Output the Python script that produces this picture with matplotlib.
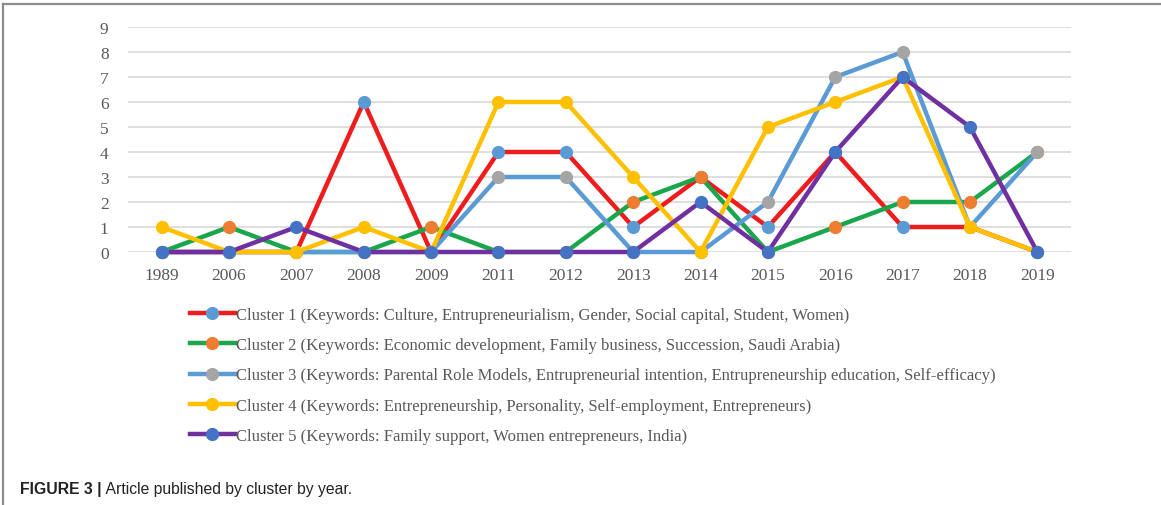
#Articles published per cluster per year, Excel-style line chart with a caption below
import matplotlib.pyplot as plt
from matplotlib.lines import Line2D

years = ['1989', '2006', '2007', '2008', '2009', '2011', '2012',
         '2013', '2014', '2015', '2016', '2017', '2018', '2019']

cluster1 = [0, 0, 0, 6, 0, 4, 4, 1, 3, 1, 4, 1, 1, 0]
cluster2 = [0, 1, 0, 0, 1, 0, 0, 2, 3, 0, 1, 2, 2, 4]
cluster3 = [0, 0, 0, 0, 0, 3, 3, 0, 0, 2, 7, 8, 1, 4]
cluster4 = [1, 0, 0, 1, 0, 6, 6, 3, 0, 5, 6, 7, 1, 0]
cluster5 = [0, 0, 1, 0, 0, 0, 0, 0, 2, 0, 4, 7, 5, 0]

labels = [
    'Cluster 1 (Keywords: Culture, Entrupreneurialism, Gender, Social capital, Student, Women)',
    'Cluster 2 (Keywords: Economic development, Family business, Succession, Saudi Arabia)',
    'Cluster 3 (Keywords: Parental Role Models, Entrupreneurial intention, Entrupreneurship education, Self-efficacy)',
    'Cluster 4 (Keywords: Entrepreneurship, Personality, Self-employment, Entrepreneurs)',
    'Cluster 5 (Keywords: Family support, Women entrepreneurs, India)',
]

series = [cluster1, cluster2, cluster3, cluster4, cluster5]
line_colors = ['#EE1C1C', '#1AA64B', '#5B9BD5', '#FFC000', '#7030A0']
marker_colors = ['#5B9BD5', '#ED7D31', '#A5A5A5', '#FFC000', '#4472C4']

fig = plt.figure(figsize=(11.61, 5.06), dpi=100)
ax = fig.add_axes([128 / 1161, 1 - 253 / 506, (1071 - 128) / 1161, (253 - 28) / 506])

x = range(len(years))
for vals, lc, mc, lab in zip(series, line_colors, marker_colors, labels):
    ax.plot(x, vals, color=lc, lw=3.2, marker='o', ms=8.5,
            markerfacecolor=mc, markeredgecolor=mc, label=lab, clip_on=False)

ax.set_xlim(-0.5, len(years) - 0.5)
ax.set_ylim(0, 9)
ax.set_yticks(range(10))
ax.set_xticks(list(x))
ax.set_xticklabels(years)
ax.grid(axis='y', color='#D9D9D9', lw=1.2)
ax.set_axisbelow(True)
for s in ax.spines.values():
    s.set_visible(False)
ax.tick_params(length=0, labelsize=12.5, labelcolor='#595959')
ax.tick_params(axis='y', pad=14)
ax.tick_params(axis='x', pad=11)
for t in ax.get_xticklabels() + ax.get_yticklabels():
    t.set_family('Liberation Serif')

leg = fig.legend(loc='upper left', bbox_to_anchor=(183 / 1161, 1 - 301 / 506),
                 frameon=False, numpoints=1, handlelength=2.7, handletextpad=0.05,
                 labelspacing=0.86, borderaxespad=0,
                 prop={'family': 'Liberation Serif', 'size': 12})
for t in leg.get_texts():
    t.set_color('#595959')

# page border lines (left and top)
fig.add_artist(Line2D([3 / 1161, 3 / 1161], [0, 1 - 5 / 506], color='#8C8C8C', lw=1.6))
fig.add_artist(Line2D([3 / 1161, 1], [1 - 5 / 506, 1 - 5 / 506], color='#8C8C8C', lw=1.6))

cap = fig.text(20 / 1161, 1 - 490 / 506, 'FIGURE 3 |', fontsize=11.3, fontweight='bold',
               family='Liberation Sans', va='center', color='#222222')
ax.annotate(' Article published by cluster by year.', xy=(1, 0.5), xycoords=cap,
            va='center', fontsize=11.3, family='Liberation Sans', color='#222222')

fig.savefig('out.png', dpi=100)
